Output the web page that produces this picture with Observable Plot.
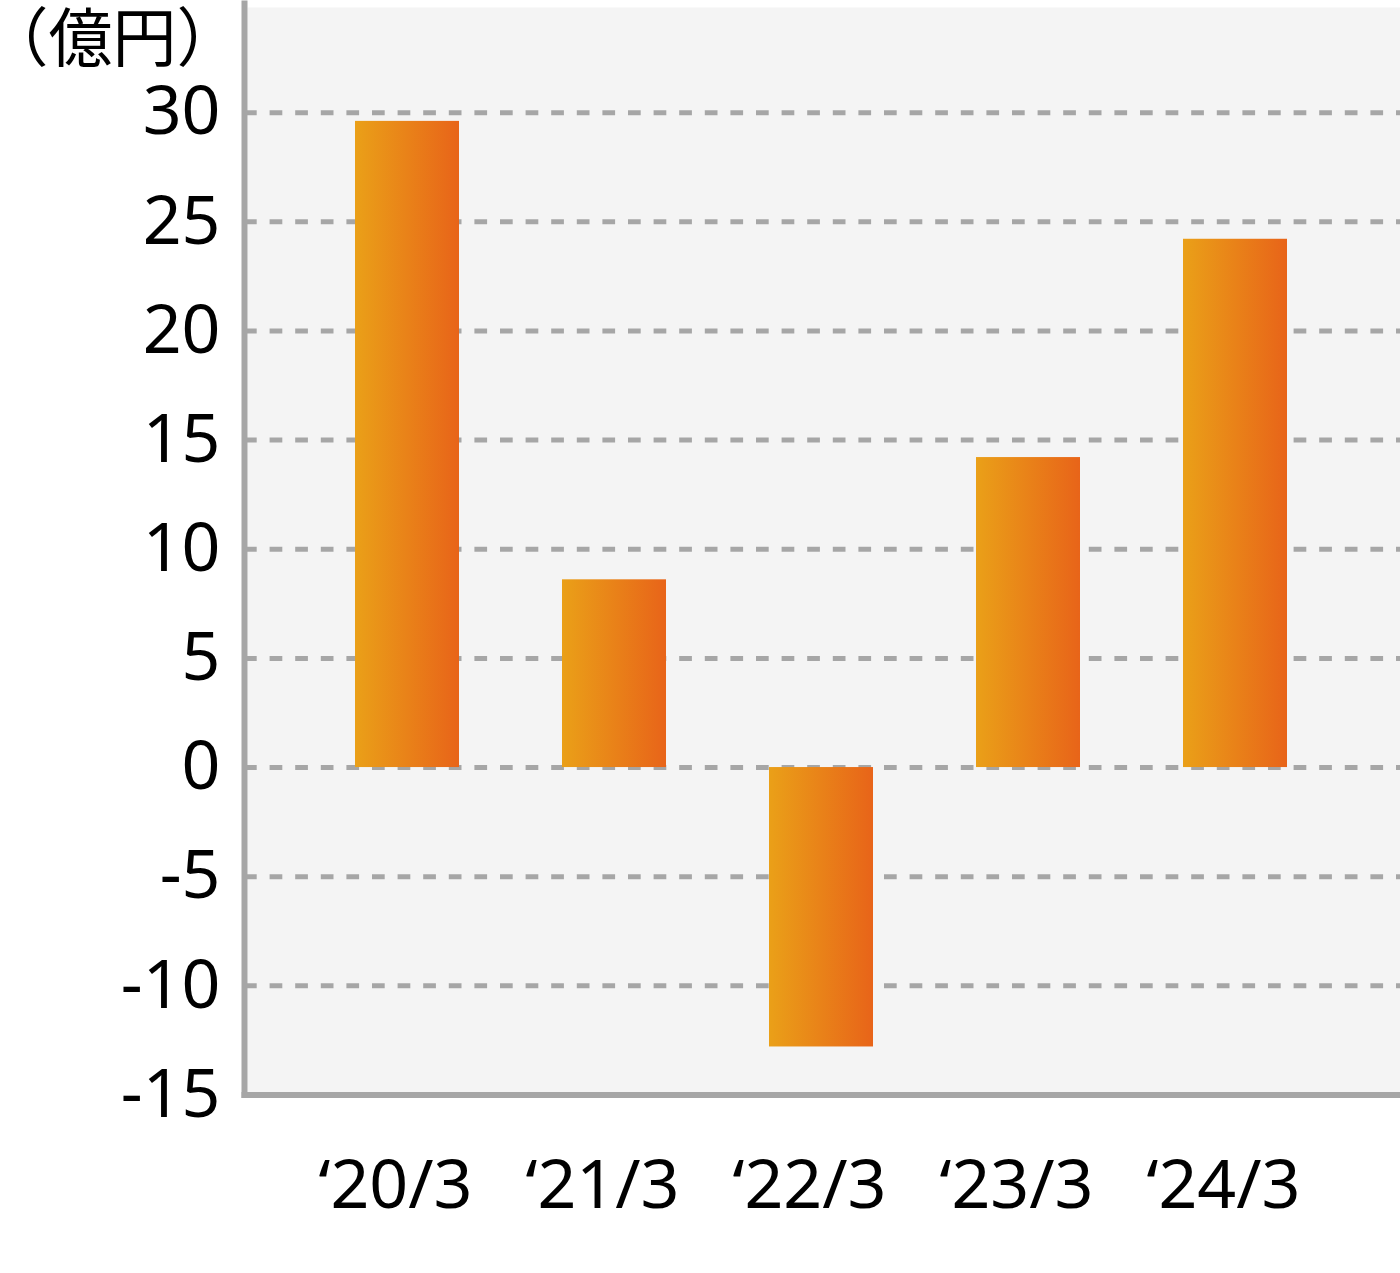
<!DOCTYPE html>
<html>
<head>
<meta charset="utf-8">
<script src="https://cdn.jsdelivr.net/npm/d3@7"></script>
<script src="https://cdn.jsdelivr.net/npm/@observablehq/plot@0.6"></script>
<style>
  html, body { margin: 0; padding: 0; background: #fff; }
</style>
</head>
<body>
<div id="chart"></div>
<script>
const categories = ["‘20/3", "‘21/3", "‘22/3", "‘23/3", "‘24/3"];
const values = [29.6, 8.6, -12.8, 14.2, 24.2];
const yTicks = [-15, -10, -5, 0, 5, 10, 15, 20, 25, 30];
const gridTicks = [-10, -5, 0, 5, 10, 15, 20, 25, 30];
const unitLabel = "（億円）";

const data = categories.map((c, i) => ({cat: c, value: values[i]}));

const defs = () => {
  const d = d3.create("svg:defs");
  const g = d.append("linearGradient").attr("id", "barGrad")
    .attr("x1", "0").attr("x2", "1").attr("y1", "0").attr("y2", "0");
  g.append("stop").attr("offset", "0%").attr("stop-color", "#eaa018");
  g.append("stop").attr("offset", "100%").attr("stop-color", "#e86419");
  return d.node();
};

const chart = Plot.plot({
  width: 1400,
  height: 1273,
  marginLeft: 244,
  marginRight: 0,
  marginTop: 3,
  marginBottom: 178.5,
  x: {domain: categories, range: [244, 1397], paddingInner: 0.5, paddingOuter: 0.53, label: null},
  y: {domain: [-15, 35], label: null},
  style: {fontFamily: "'Noto Sans', sans-serif", fontSize: "68px", color: "#000", background: "#fff"},
  marks: [
    defs,
    Plot.frame({fill: "#f4f4f4", stroke: null, insetTop: 4, insetLeft: 3, insetBottom: 3}),
    Plot.ruleY(gridTicks, {stroke: "#a6a6a6", strokeWidth: 5, strokeDasharray: "12.7,12.9"}),
    Plot.barY(data, {x: "cat", y: "value", fill: "url(#barGrad)"}),
    Plot.axisY({ticks: yTicks, tickFormat: d => String(d), tickSize: 0, tickPadding: 24, fontSize: 68, label: null}),
    Plot.axisX({tickSize: 0, tickPadding: 65, dx: -12, fontSize: 68, label: null}),
    Plot.frame({anchor: "left", stroke: "#a6a6a6", strokeWidth: 6}),
    Plot.frame({anchor: "bottom", stroke: "#a6a6a6", strokeWidth: 6}),
    Plot.text([unitLabel], {
      frameAnchor: "top-left", dx: -132, dy: 37,
      textAnchor: "middle", lineAnchor: "middle",
      fontSize: 64, fontFamily: "'Noto Sans CJK JP'", fill: "#000"
    })
  ]
});
document.getElementById("chart").appendChild(chart);
</script>
</body>
</html>
